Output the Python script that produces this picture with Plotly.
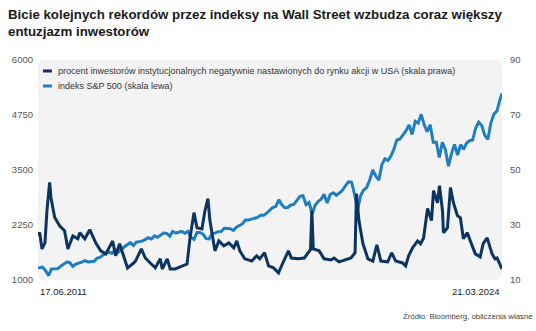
import plotly.graph_objects as go
import pandas as pd

# ---------------- data ----------------
title_lines = ["Bicie kolejnych rekordów przez indeksy na Wall Street wzbudza coraz większy",
               "entuzjazm inwestorów"]
name_neg = "procent inwestorów instytucjonalnych negatywnie nastawionych do rynku akcji w USA (skala prawa)"
name_sp = "indeks S&P 500 (skala lewa)"
start_label = "17.06.2011"
end_label = "21.03.2024"
source_text = "Źródło: Bloomberg, obliczenia własne"

left_ticks = [1000, 2250, 3500, 4750, 6000]
right_ticks = [10, 30, 50, 70, 90]

# S&P 500 (left scale), approx. month-end levels
sp_dates = (["2011-06-17"]
            + [d.strftime("%Y-%m-%d") for d in pd.date_range("2011-07-31", "2024-02-29", freq="ME")]
            + ["2024-03-21"])
sp_vals = [
    1271,
    1292, 1219, 1100, 1253, 1247, 1258,
    1312, 1366, 1408, 1398, 1310, 1362, 1379, 1407, 1441, 1412, 1416, 1426,
    1498, 1515, 1569, 1598, 1631, 1606, 1686, 1633, 1682, 1757, 1806, 1848,
    1783, 1859, 1872, 1884, 1924, 1960, 1931, 2003, 1972, 2018, 2068, 2059,
    1995, 2105, 2068, 2086, 2107, 2063, 2104, 1972, 1920, 2079, 2080, 2044,
    1940, 1932, 2060, 2065, 2097, 2099, 2174, 2171, 2168, 2126, 2199, 2239,
    2279, 2364, 2363, 2384, 2412, 2423, 2470, 2472, 2519, 2575, 2648, 2674,
    2824, 2714, 2641, 2648, 2705, 2718, 2816, 2902, 2914, 2712, 2760, 2507,
    2704, 2784, 2834, 2946, 2752, 2942, 2980, 2926, 2977, 3038, 3141, 3231,
    3226, 2954, 2585, 2912, 3044, 3100, 3271, 3500, 3363, 3270, 3622, 3756,
    3714, 3811, 3973, 4181, 4204, 4298, 4395, 4523, 4308, 4605, 4567, 4766,
    4516, 4374, 4530, 4132, 4132, 3785, 4130, 3955, 3586, 3872, 4080, 3840,
    4077, 3970, 4109, 4169, 4180, 4450, 4589, 4508, 4288, 4194, 4568, 4770,
    4846, 5096,
    5241,
]

# % of institutional investors bearish on US equities (right scale)
neg_dates = [
    "2011-06-17", "2011-07-04", "2011-07-27", "2011-08-26", "2011-09-15", "2011-10-12",
    "2011-10-25", "2011-12-01", "2012-01-20", "2012-03-10", "2012-04-12", "2012-06-01",
    "2012-07-21", "2012-08-10", "2012-09-29", "2012-11-18", "2013-01-17", "2013-03-08",
    "2013-04-28", "2013-07-06", "2013-08-05", "2013-09-14", "2013-11-02", "2013-12-02",
    "2014-01-21", "2014-02-20", "2014-04-20", "2014-05-30", "2014-07-19", "2014-09-07",
    "2014-10-27", "2014-11-16", "2015-01-05", "2015-02-04", "2015-03-26", "2015-06-04",
    "2015-07-23", "2015-08-22", "2015-10-01", "2015-10-31", "2015-12-20", "2016-01-19",
    "2016-02-18", "2016-03-09", "2016-03-29", "2016-04-28", "2016-06-07", "2016-07-27",
    "2016-09-15", "2016-11-04", "2016-12-04", "2017-01-03", "2017-02-22", "2017-05-03",
    "2017-06-22", "2017-07-22", "2017-09-09", "2017-10-19", "2017-12-08", "2018-01-27",
    "2018-02-26", "2018-05-06", "2018-06-05", "2018-08-14", "2018-10-13", "2018-12-14",
    "2018-12-28", "2019-01-11", "2019-03-11", "2019-04-30", "2019-07-09", "2019-08-08",
    "2019-09-27", "2019-11-16", "2020-01-25", "2020-03-06", "2020-03-20", "2020-04-14",
    "2020-05-24", "2020-07-13", "2020-09-01", "2020-10-11", "2020-11-20", "2021-01-28",
    "2021-03-09", "2021-04-18", "2021-06-27", "2021-07-27", "2021-08-26", "2021-10-05",
    "2021-11-24", "2021-12-24", "2022-01-23", "2022-03-04", "2022-04-13", "2022-05-03",
    "2022-06-12", "2022-07-02", "2022-08-01", "2022-08-11", "2022-09-20", "2022-10-20",
    "2022-11-19", "2022-12-29", "2023-01-28", "2023-02-27", "2023-04-08", "2023-05-08",
    "2023-06-27", "2023-08-15", "2023-09-14", "2023-10-24", "2023-12-12", "2024-01-11",
    "2024-01-31", "2024-03-21",
]
neg_vals = [
    26.1, 27.3, 21.3, 23.5, 35.2, 45.5,
    40.0, 32.8, 29.7, 27.9, 21.3, 26.0,
    25.0, 27.2, 25.0, 28.3, 23.5, 20.6,
    19.5, 24.2, 18.8, 23.2, 17.7, 14.4,
    15.8, 16.9, 21.3, 18.0, 16.2, 14.4,
    17.7, 14.0, 17.7, 14.0, 14.0, 15.1,
    15.8, 25.3, 34.5, 29.0, 28.6, 35.2,
    39.6, 31.6, 27.2, 20.6, 24.2, 22.4,
    23.5, 21.7, 24.2, 20.6, 17.7, 16.9,
    18.8, 17.7, 19.9, 15.1, 14.4, 12.6,
    15.1, 20.6, 18.0, 17.7, 18.0, 21.0,
    35.2, 21.3, 20.6, 17.7, 17.3, 18.0,
    16.6, 17.3, 18.0, 19.9, 41.4, 31.6,
    23.2, 17.7, 16.9, 22.8, 16.9, 16.6,
    19.9, 16.9, 16.2, 15.1, 18.8, 21.7,
    24.2, 23.2, 25.3, 36.0, 31.6, 42.5,
    38.1, 44.3, 35.2, 27.2, 29.0, 43.6,
    38.1, 33.4, 32.6, 25.0, 27.2, 24.2,
    19.5, 18.4, 23.2, 25.3, 19.5, 17.7,
    18.0, 14.0,
]

# ---------------- styling ----------------
DARK = "#0b3461"
LIGHT = "#1f7dc2"
BG = "#f3f3f3"
FONT = "Liberation Sans, Arial, sans-serif"
W, H = 536, 331
ML, MR, MT, MB = 35, 34, 60, 51

fig = go.Figure()
fig.add_trace(go.Scatter(x=sp_dates, y=sp_vals, name=name_sp, mode="lines",
                         line=dict(color=LIGHT, width=3), yaxis="y", showlegend=False))
fig.add_trace(go.Scatter(x=neg_dates, y=neg_vals, name=name_neg, mode="lines",
                         line=dict(color=DARK, width=3), yaxis="y2", showlegend=False))

pw, ph = W - ML - MR, H - MT - MB
rx, ry = 6 / pw, 6 / ph
path = (f"M {rx},0 L {1-rx},0 Q 1,0 1,{ry} L 1,{1-ry} Q 1,1 {1-rx},1 "
        f"L {rx},1 Q 0,1 0,{1-ry} L 0,{ry} Q 0,0 {rx},0 Z")
shapes = [dict(type="path", path=path, xref="paper", yref="paper", layer="below",
               fillcolor=BG, line=dict(width=0))]

# legend (short line markers + text)
leg_y = [1 - 11 / ph, 1 - 26 / ph]
for yy, col in zip(leg_y, [DARK, LIGHT]):
    shapes.append(dict(type="line", xref="paper", yref="paper",
                       x0=5 / pw, x1=14 / pw, y0=yy, y1=yy,
                       line=dict(color=col, width=3)))
annotations = []
for yy, txt in zip(leg_y, [name_neg, name_sp]):
    annotations.append(dict(text=txt, xref="paper", yref="paper", x=18 / pw, y=yy,
                            xanchor="left", yanchor="middle", showarrow=False,
                            font=dict(family=FONT, size=9, color="#333")))

annotations += [
    dict(text=start_label, xref="paper", yref="paper", x=0, y=-11 / ph,
         xanchor="left", yanchor="middle", showarrow=False,
         font=dict(family=FONT, size=9.5, color="#222")),
    dict(text=end_label, xref="paper", yref="paper", x=1, y=-11 / ph,
         xanchor="right", yanchor="middle", showarrow=False,
         font=dict(family=FONT, size=9.5, color="#222")),
    dict(text=source_text, xref="paper", yref="paper", x=(W - 1 - ML) / pw, y=-36 / ph,
         xanchor="right", yanchor="middle", showarrow=False,
         font=dict(family=FONT, size=7.8, color="#444")),
    dict(text="<b>" + "<br>".join(title_lines) + "</b>", xref="paper", yref="paper",
         x=-(ML - 3) / pw, y=1 + (MT - 5) / ph, xanchor="left", yanchor="top",
         align="left", showarrow=False,
         font=dict(family=FONT, size=13.3, color="#1a1a1a")),
]

fig.update_layout(
    width=W, height=H,
    margin=dict(l=ML, r=MR, t=MT, b=MB, pad=0),
    paper_bgcolor="white", plot_bgcolor="rgba(0,0,0,0)",
    showlegend=False,
    shapes=shapes, annotations=annotations,
    xaxis=dict(type="date", range=["2011-06-17", "2024-03-21"], showgrid=False,
               zeroline=False, showticklabels=False, showline=False, ticks=""),
    yaxis=dict(range=[1000, 6000], tickvals=left_ticks, showgrid=False, zeroline=False,
               showline=False, ticks="", ticklabelstandoff=4,
               tickfont=dict(family=FONT, size=9.5, color="#555")),
    yaxis2=dict(range=[10, 90], tickvals=right_ticks, overlaying="y", side="right",
                showgrid=False, zeroline=False, showline=False, ticks="",
                ticklabelstandoff=7,
                tickfont=dict(family=FONT, size=9.5, color="#555")),
)

fig.write_html("out.html")
